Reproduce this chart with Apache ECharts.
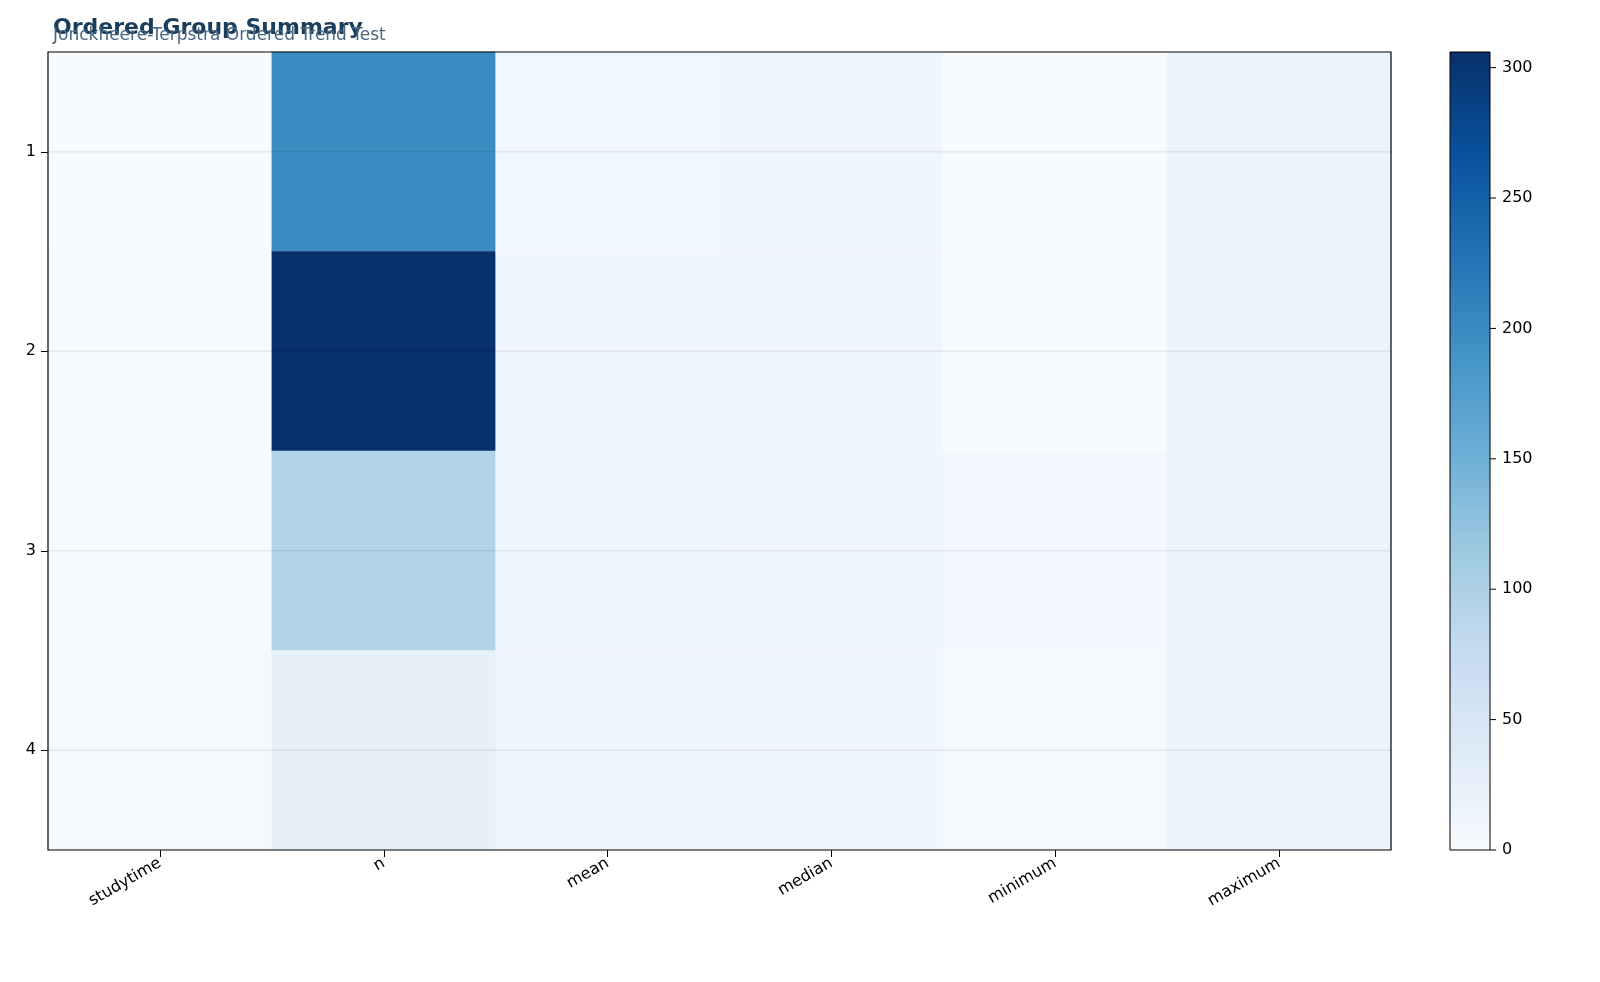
<!DOCTYPE html>
<html><head><meta charset="utf-8">
<script src="https://cdn.jsdelivr.net/npm/echarts@6/dist/echarts.min.js"></script>
<style>html,body{margin:0;padding:0;background:#fff;overflow:hidden}#c{width:1600px;height:982px}</style>
</head><body><div id="c"></div>
<script>
const columns = ['studytime','n','mean','median','minimum','maximum'];
const groups = ['1','2','3','4'];
const studytime = [1,2,3,4];
const nVals = [198,306,95,27];
const meanVals = [10.1,10.8,11.5,11.7];
const medianVals = [11,11,11,12];
const minVals = [0,0,6,5];
const maxVals = [19,19,19,19];
const cbTicks = [0,50,100,150,200,250,300];
const cols = [studytime,nVals,meanVals,medianVals,minVals,maxVals];
const data = [];
cols.forEach((arr,ci)=>arr.forEach((v,ri)=>data.push([ci,ri,v])));
const blues = ['#f7fbff','#deebf7','#c6dbef','#9ecae1','#6baed6','#4292c6','#2171b5','#08519c','#08306b'];
const vmax = 306, cbTop = 52, cbBot = 850, cbH = cbBot - cbTop;
const chart = echarts.init(document.getElementById('c'));
chart.setOption({
  animation:false,
  title:[{text:'Ordered Group Summary',left:48,top:12,textStyle:{fontSize:22,fontWeight:'bold',color:'#1a3d5c',fontFamily:'DejaVu Sans'}},
         {text:'Jonckheere-Terpstra Ordered Trend Test',left:48,top:22,textStyle:{fontSize:17,fontWeight:'normal',color:'#4a6680',fontFamily:'DejaVu Sans'}}],
  grid:{left:48,right:209,top:52,bottom:132,show:true,borderColor:'#000',borderWidth:1.2,z:5},
  xAxis:{type:'category',data:columns,axisLine:{show:false},axisTick:{show:true,alignWithLabel:true,length:7,lineStyle:{color:'#000'}},
    axisLabel:{rotate:30,fontSize:16,color:'#000',fontFamily:'DejaVu Sans',margin:12},splitLine:{show:false}},
  yAxis:{type:'category',data:groups,inverse:true,axisLine:{show:false},axisTick:{show:true,alignWithLabel:true,length:7,lineStyle:{color:'#000'}},
    axisLabel:{fontSize:16,color:'#000',fontFamily:'DejaVu Sans',margin:12},splitLine:{show:false}},
  visualMap:{type:'continuous',show:false,min:0,max:vmax,inRange:{color:blues}},
  graphic:[{type:'rect',shape:{x:1450,y:cbTop,width:40,height:cbH},
      style:{fill:new echarts.graphic.LinearGradient(0,1,0,0,blues.map((c,i)=>({offset:i/(blues.length-1),color:c}))),stroke:'#000',lineWidth:1}}]
   .concat(cbTicks.map(v=>({type:'group',children:[
    {type:'line',shape:{x1:1490,y1:cbBot-v/vmax*cbH,x2:1496,y2:cbBot-v/vmax*cbH},style:{stroke:'#000',lineWidth:1}},
    {type:'text',style:{x:1502,y:cbBot-v/vmax*cbH,text:String(v),fill:'#000',font:'16px DejaVu Sans',textVerticalAlign:'middle'}}]})))
   .concat([0,1,2,3].map(i=>({type:'line',z:100,shape:{x1:48,y1:52+99.75*(2*i+1),x2:1391,y2:52+99.75*(2*i+1)},style:{stroke:'rgba(0,0,0,0.07)',lineWidth:1.5}}))),
  series:[{type:'heatmap',data:data,itemStyle:{borderWidth:0}}]
});
</script></body></html>
